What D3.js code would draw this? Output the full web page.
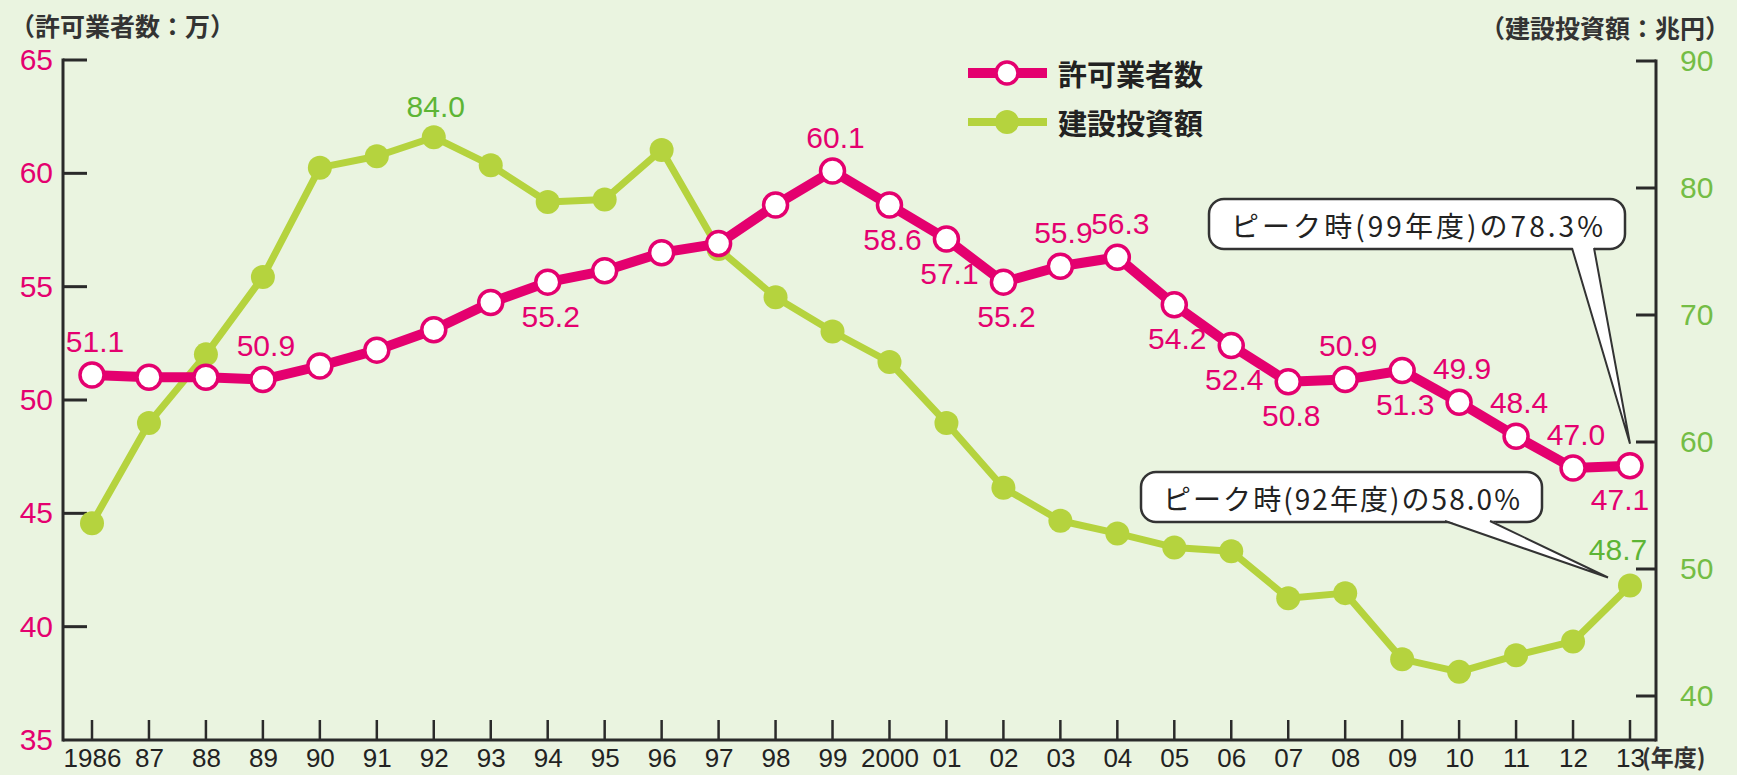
<!DOCTYPE html>
<html>
<head>
<meta charset="utf-8">
<script src="https://cdn.jsdelivr.net/npm/d3@7"></script>
<style>
  html, body { margin: 0; padding: 0; background: #eaf4e0; }
  svg { display: block; }
</style>
</head>
<body>
<svg id="chart" width="1737" height="775"></svg>
<script>
// ---------------- data ----------------
const years = [1986,1987,1988,1989,1990,1991,1992,1993,1994,1995,1996,1997,1998,1999,
               2000,2001,2002,2003,2004,2005,2006,2007,2008,2009,2010,2011,2012,2013];
const yearLabels = ["1986","87","88","89","90","91","92","93","94","95","96","97","98","99",
                    "2000","01","02","03","04","05","06","07","08","09","10","11","12","13"];
// 許可業者数 (万)
const permits = [51.1,51.0,51.0,50.9,51.5,52.2,53.1,54.3,55.2,55.7,56.5,56.9,58.6,60.1,
                 58.6,57.1,55.2,55.9,56.3,54.2,52.4,50.8,50.9,51.3,49.9,48.4,47.0,47.1];
// 建設投資額 (兆円)
const investment = [53.6,61.5,66.9,73.0,81.6,82.5,84.0,81.8,78.9,79.1,83.0,75.2,71.4,68.7,
                    66.3,61.5,56.4,53.8,52.8,51.7,51.4,47.7,48.1,42.9,41.9,43.2,44.3,48.7];
const leftTicks = [35,40,45,50,55,60,65];
const rightTicks = [40,50,60,70,80,90];
const seriesNames = ["許可業者数","建設投資額"];
const leftTitle = "（許可業者数：万）";
const rightTitle = "（建設投資額：兆円）";
const xUnit = "(年度)";
const callout1 = "ピーク時(99年度)の78.3%";
const callout2 = "ピーク時(92年度)の58.0%";
// which points get a value label: 'a' above, 'b' below, '' none
const permitLabelPos = ['a','','','a','','','','','b','','','','','a',
                        'b','b','b','a','a','b','b','b','a','b','a','a','a','b'];
const investLabelPos = ['','','','','','','a','','','','','','','',
                        '','','','','','','','','','','','','','a'];

// ---------------- layout ----------------
const PINK = "#e4006f", GREEN = "#b5d33e", GREEN_TXT = "#5db535", AXIS = "#2a2a2a";
const svg = d3.select("#chart");
const axL = 63, axR = 1656, axB = 740;

const x = d3.scalePoint().domain(years).range([92, 1630]);
const yL = d3.scaleLinear().domain([35, 65]).range([740, 60]);
const yR = d3.scaleLinear().domain([40, 90]).range([696, 61]);

const numFont = "'Liberation Sans', Arial, sans-serif";
const jpFont = "'Noto Sans CJK JP', 'Noto Sans', sans-serif";

// ---------------- axes ----------------
const axes = svg.append("g");
// left axis
const leftAxis = d3.axisLeft(yL).tickValues(leftTicks).tickSize(0).tickPadding(10).tickFormat(d3.format("d"));
const gL = axes.append("g").attr("transform", `translate(${axL},0)`).call(leftAxis);
gL.select(".domain").remove();
gL.selectAll("text").attr("font-family", numFont).attr("font-size", 30).attr("fill", PINK).attr("x", -10);
axes.append("g").selectAll("line").data(leftTicks.filter(d => d > 35)).join("line")
  .attr("x1", axL).attr("x2", axL + 24).attr("y1", d => yL(d)).attr("y2", d => yL(d))
  .attr("stroke", AXIS).attr("stroke-width", 3);
axes.append("line").attr("x1", axL).attr("x2", axL).attr("y1", yL(65) - 1.5).attr("y2", axB + 1.5)
  .attr("stroke", AXIS).attr("stroke-width", 3);

// right axis
const rightAxis = d3.axisRight(yR).tickValues(rightTicks).tickSize(0).tickPadding(24).tickFormat(d3.format("d"));
const gR = axes.append("g").attr("transform", `translate(${axR},0)`).call(rightAxis);
gR.select(".domain").remove();
gR.selectAll("text").attr("font-family", numFont).attr("font-size", 30).attr("fill", "#74bd45");
axes.append("g").selectAll("line").data(rightTicks).join("line")
  .attr("x1", axR - 20).attr("x2", axR).attr("y1", d => yR(d)).attr("y2", d => yR(d))
  .attr("stroke", AXIS).attr("stroke-width", 3);
axes.append("line").attr("x1", axR).attr("x2", axR).attr("y1", yR(90) - 1.5).attr("y2", axB + 1.5)
  .attr("stroke", AXIS).attr("stroke-width", 3);

// bottom axis
const bottomAxis = d3.axisBottom(x).tickSize(0).tickPadding(8).tickFormat((d, i) => yearLabels[i]);
const gB = axes.append("g").attr("transform", `translate(0,${axB})`).call(bottomAxis);
gB.select(".domain").remove();
gB.selectAll("text").attr("font-family", numFont).attr("font-size", 26).attr("fill", "#222")
  .attr("dy", "0.72em");
axes.append("g").selectAll("line").data(years).join("line")
  .attr("x1", d => x(d)).attr("x2", d => x(d)).attr("y1", axB - 20).attr("y2", axB)
  .attr("stroke", AXIS).attr("stroke-width", 2.5);
axes.append("line").attr("x1", axL).attr("x2", axR).attr("y1", axB).attr("y2", axB)
  .attr("stroke", AXIS).attr("stroke-width", 3);

// axis titles
svg.append("text").attr("x", 10).attr("y", 36).attr("font-family", jpFont).attr("font-weight", 700)
  .attr("font-size", 25).attr("fill", "#333").text(leftTitle);
svg.append("text").attr("x", 1730).attr("y", 38).attr("text-anchor", "end").attr("font-family", jpFont)
  .attr("font-weight", 700).attr("font-size", 25).attr("fill", "#333").text(rightTitle);
svg.append("text").attr("x", 1642).attr("y", 766).attr("font-family", jpFont).attr("font-weight", 700)
  .attr("font-size", 23).attr("fill", "#333").text(xUnit);

// ---------------- series ----------------
const greenLine = d3.line().x((d, i) => x(years[i])).y(d => yR(d));
svg.append("path").datum(investment).attr("d", greenLine).attr("fill", "none")
  .attr("stroke", GREEN).attr("stroke-width", 7).attr("stroke-linejoin", "round");
svg.append("g").selectAll("circle").data(investment).join("circle")
  .attr("cx", (d, i) => x(years[i])).attr("cy", d => yR(d)).attr("r", 12).attr("fill", GREEN);

const pinkLine = d3.line().x((d, i) => x(years[i])).y(d => yL(d));
svg.append("path").datum(permits).attr("d", pinkLine).attr("fill", "none")
  .attr("stroke", PINK).attr("stroke-width", 10).attr("stroke-linejoin", "round");
svg.append("g").selectAll("circle").data(permits).join("circle")
  .attr("cx", (d, i) => x(years[i])).attr("cy", d => yL(d)).attr("r", 12)
  .attr("fill", "#fff").attr("stroke", PINK).attr("stroke-width", 3.5);

// value labels
const lastIdx = years.length - 1;
svg.append("g").selectAll("text")
  .data(permits.map((v, i) => ({ v, i, p: permitLabelPos[i] })).filter(d => d.p))
  .join("text")
  .attr("x", d => x(years[d.i]) + (d.i === lastIdx ? -10 : 3))
  .attr("y", d => yL(d.v) + (d.p === 'a' ? -34 : 34))
  .attr("dominant-baseline", "central").attr("text-anchor", "middle")
  .attr("font-family", numFont).attr("font-size", 30).attr("fill", PINK)
  .text(d => d3.format(".1f")(d.v));
svg.append("g").selectAll("text")
  .data(investment.map((v, i) => ({ v, i, p: investLabelPos[i] })).filter(d => d.p))
  .join("text")
  .attr("x", (d) => x(years[d.i]) + (d.i === lastIdx ? -12 : 2))
  .attr("y", d => yR(d.v) + (d.i === lastIdx ? -36 : -31))
  .attr("dominant-baseline", "central").attr("text-anchor", "middle")
  .attr("font-family", numFont).attr("font-size", 30).attr("fill", GREEN_TXT)
  .text(d => d3.format(".1f")(d.v));

// ---------------- legend ----------------
const lg = svg.append("g");
lg.append("line").attr("x1", 968).attr("x2", 1047).attr("y1", 73).attr("y2", 73)
  .attr("stroke", PINK).attr("stroke-width", 10);
lg.append("circle").attr("cx", 1007).attr("cy", 73).attr("r", 11).attr("fill", "#fff")
  .attr("stroke", PINK).attr("stroke-width", 3.5);
lg.append("line").attr("x1", 968).attr("x2", 1047).attr("y1", 122).attr("y2", 122)
  .attr("stroke", GREEN).attr("stroke-width", 8);
lg.append("circle").attr("cx", 1007).attr("cy", 122).attr("r", 12).attr("fill", GREEN);
lg.selectAll("text.lg").data(seriesNames).join("text")
  .attr("x", 1058).attr("y", (d, i) => 73 + i * 49).attr("dominant-baseline", "central")
  .attr("font-family", jpFont).attr("font-weight", 700).attr("font-size", 29).attr("fill", "#222")
  .text(d => d);

// ---------------- callouts ----------------
function callout(bx, by, bw, bh, b1, b2, tip, label) {
  const g = svg.append("g");
  g.append("rect").attr("x", bx).attr("y", by).attr("width", bw).attr("height", bh)
    .attr("rx", 15).attr("fill", "#fff").attr("stroke", "#333").attr("stroke-width", 2.5);
  g.append("path").attr("d", `M${b1},${by + bh - 2} L${tip[0]},${tip[1]} L${b2},${by + bh - 2} Z`)
    .attr("fill", "#fff").attr("stroke", "none");
  g.append("path").attr("d", `M${b1},${by + bh - 1} L${tip[0]},${tip[1]} L${b2},${by + bh - 1}`)
    .attr("fill", "none").attr("stroke", "#333").attr("stroke-width", 2);
  g.append("text").attr("x", bx + bw / 2).attr("y", by + bh / 2 + 1).attr("text-anchor", "middle")
    .attr("dominant-baseline", "central").attr("font-family", jpFont).attr("font-size", 28)
    .attr("textLength", bw - 44).attr("lengthAdjust", "spacing")
    .attr("fill", "#222").text(label);
}
callout(1209, 199, 416, 50, 1572, 1594,
        [x(years[lastIdx]), yL(permits[lastIdx]) - 22], callout1);
callout(1141, 472, 401, 50, 1445, 1490,
        [x(years[lastIdx]) - 22, yR(investment[lastIdx]) - 8], callout2);
</script>
</body>
</html>
